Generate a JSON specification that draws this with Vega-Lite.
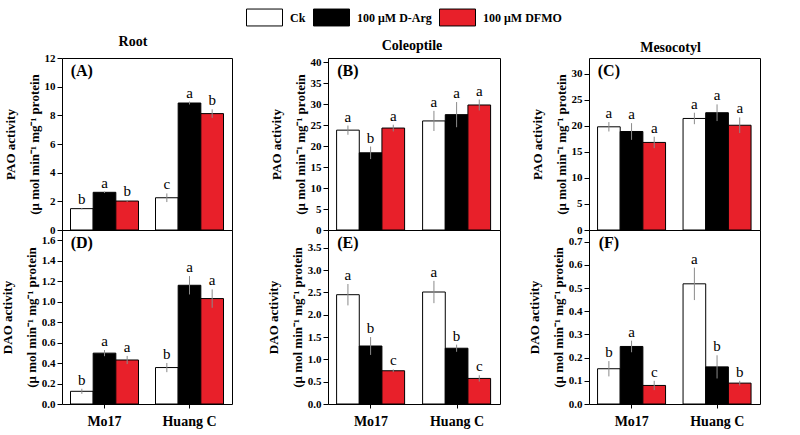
{
  "$schema": "https://vega.github.io/schema/vega-lite/v6.json",
  "padding": {"left": 0, "top": 8, "right": 5, "bottom": 5},
  "background": "white",
  "datasets": {
    "d": [
      {"panel": "A", "cultivar": "Mo17", "treatment": "Ck", "value": 1.49, "lo": 1.44, "hi": 1.54, "letter": "b"},
      {"panel": "A", "cultivar": "Mo17", "treatment": "100 μM D-Arg", "value": 2.63, "lo": 2.58, "hi": 2.68, "letter": "a"},
      {"panel": "A", "cultivar": "Mo17", "treatment": "100 μM DFMO", "value": 2.02, "lo": 1.96, "hi": 2.08, "letter": "b"},
      {"panel": "A", "cultivar": "Huang C", "treatment": "Ck", "value": 2.25, "lo": 1.95, "hi": 2.55, "letter": "c"},
      {"panel": "A", "cultivar": "Huang C", "treatment": "100 μM D-Arg", "value": 8.86, "lo": 8.76, "hi": 8.96, "letter": "a"},
      {"panel": "A", "cultivar": "Huang C", "treatment": "100 μM DFMO", "value": 8.12, "lo": 7.82, "hi": 8.42, "letter": "b"},
      {"panel": "B", "cultivar": "Mo17", "treatment": "Ck", "value": 23.8, "lo": 22.7, "hi": 24.9, "letter": "a"},
      {"panel": "B", "cultivar": "Mo17", "treatment": "100 μM D-Arg", "value": 18.4, "lo": 16.9, "hi": 19.9, "letter": "b"},
      {"panel": "B", "cultivar": "Mo17", "treatment": "100 μM DFMO", "value": 24.3, "lo": 23.5, "hi": 25.1, "letter": "a"},
      {"panel": "B", "cultivar": "Huang C", "treatment": "Ck", "value": 26.0, "lo": 23.6, "hi": 28.4, "letter": "a"},
      {"panel": "B", "cultivar": "Huang C", "treatment": "100 μM D-Arg", "value": 27.5, "lo": 24.5, "hi": 30.5, "letter": "a"},
      {"panel": "B", "cultivar": "Huang C", "treatment": "100 μM DFMO", "value": 29.8, "lo": 28.5, "hi": 31.1, "letter": "a"},
      {"panel": "C", "cultivar": "Mo17", "treatment": "Ck", "value": 19.8, "lo": 18.9, "hi": 20.7, "letter": "a"},
      {"panel": "C", "cultivar": "Mo17", "treatment": "100 μM D-Arg", "value": 18.9, "lo": 17.3, "hi": 20.5, "letter": "a"},
      {"panel": "C", "cultivar": "Mo17", "treatment": "100 μM DFMO", "value": 16.8, "lo": 15.7, "hi": 17.9, "letter": "a"},
      {"panel": "C", "cultivar": "Huang C", "treatment": "Ck", "value": 21.4, "lo": 20.3, "hi": 22.5, "letter": "a"},
      {"panel": "C", "cultivar": "Huang C", "treatment": "100 μM D-Arg", "value": 22.5, "lo": 20.9, "hi": 24.1, "letter": "a"},
      {"panel": "C", "cultivar": "Huang C", "treatment": "100 μM DFMO", "value": 20.1, "lo": 18.6, "hi": 21.6, "letter": "a"},
      {"panel": "D", "cultivar": "Mo17", "treatment": "Ck", "value": 0.124, "lo": 0.099, "hi": 0.149, "letter": "b"},
      {"panel": "D", "cultivar": "Mo17", "treatment": "100 μM D-Arg", "value": 0.497, "lo": 0.467, "hi": 0.527, "letter": "a"},
      {"panel": "D", "cultivar": "Mo17", "treatment": "100 μM DFMO", "value": 0.43, "lo": 0.39, "hi": 0.47, "letter": "a"},
      {"panel": "D", "cultivar": "Huang C", "treatment": "Ck", "value": 0.356, "lo": 0.311, "hi": 0.401, "letter": "b"},
      {"panel": "D", "cultivar": "Huang C", "treatment": "100 μM D-Arg", "value": 1.16, "lo": 1.07, "hi": 1.25, "letter": "a"},
      {"panel": "D", "cultivar": "Huang C", "treatment": "100 μM DFMO", "value": 1.03, "lo": 0.94, "hi": 1.12, "letter": "a"},
      {"panel": "E", "cultivar": "Mo17", "treatment": "Ck", "value": 2.45, "lo": 2.21, "hi": 2.69, "letter": "a"},
      {"panel": "E", "cultivar": "Mo17", "treatment": "100 μM D-Arg", "value": 1.30, "lo": 1.10, "hi": 1.50, "letter": "b"},
      {"panel": "E", "cultivar": "Mo17", "treatment": "100 μM DFMO", "value": 0.745, "lo": 0.715, "hi": 0.775, "letter": "c"},
      {"panel": "E", "cultivar": "Huang C", "treatment": "Ck", "value": 2.51, "lo": 2.26, "hi": 2.76, "letter": "a"},
      {"panel": "E", "cultivar": "Huang C", "treatment": "100 μM D-Arg", "value": 1.25, "lo": 1.17, "hi": 1.33, "letter": "b"},
      {"panel": "E", "cultivar": "Huang C", "treatment": "100 μM DFMO", "value": 0.573, "lo": 0.503, "hi": 0.643, "letter": "c"},
      {"panel": "F", "cultivar": "Mo17", "treatment": "Ck", "value": 0.152, "lo": 0.119, "hi": 0.185, "letter": "b"},
      {"panel": "F", "cultivar": "Mo17", "treatment": "100 μM D-Arg", "value": 0.248, "lo": 0.223, "hi": 0.273, "letter": "a"},
      {"panel": "F", "cultivar": "Mo17", "treatment": "100 μM DFMO", "value": 0.08, "lo": 0.06, "hi": 0.10, "letter": "c"},
      {"panel": "F", "cultivar": "Huang C", "treatment": "Ck", "value": 0.518, "lo": 0.448, "hi": 0.588, "letter": "a"},
      {"panel": "F", "cultivar": "Huang C", "treatment": "100 μM D-Arg", "value": 0.16, "lo": 0.11, "hi": 0.21, "letter": "b"},
      {"panel": "F", "cultivar": "Huang C", "treatment": "100 μM DFMO", "value": 0.09, "lo": 0.08, "hi": 0.10, "letter": "b"}
    ]
  },
  "data": {"name": "d"},
  "spacing": 33,
  "hconcat": [
    {
      "spacing": 0,
      "bounds": "flush",
      "vconcat": [
        {
          "width": 170, "height": 172,
          "title": {"text": "Root", "fontSize": 14, "offset": 3, "anchor": "middle", "frame": "group", "dx": -14},
          "transform": [{"filter": "datum.panel === 'A'"}],
          "encoding": {
            "x": {"field": "cultivar", "type": "nominal", "sort": ["Mo17", "Huang C"], "scale": {"paddingInner": 0.2, "paddingOuter": 0.1}, "axis": null},
            "xOffset": {"field": "treatment", "type": "nominal", "sort": ["Ck", "100 μM D-Arg", "100 μM DFMO"], "scale": {"paddingInner": 0, "paddingOuter": 0}}
          },
          "layer": [
            {"mark": {"type": "bar", "stroke": "black", "strokeWidth": 1},
             "encoding": {
               "y": {"field": "value", "type": "quantitative", "scale": {"domain": [0, 12], "nice": false}, "axis": {"title": ["PAO activity", "(μ mol min⁻¹ mg⁻¹ protein"], "values": [0, 2, 4, 6, 8, 10, 12], "tickCount": 20, "format": "d", "labelOverlap": false}},
               "fill": {"field": "treatment", "type": "nominal", "sort": ["Ck", "100 μM D-Arg", "100 μM DFMO"], "scale": {"domain": ["Ck", "100 μM D-Arg", "100 μM DFMO"], "range": ["white", "black", "#e8202a"]},
                 "legend": {"orient": "none", "legendX": 193, "legendY": -50, "direction": "horizontal", "gridAlign": "none", "title": null, "symbolType": "M-2,-0.94H2V0.94H-2Z", "symbolSize": 324, "symbolStrokeColor": "black", "symbolStrokeWidth": 1, "symbolOpacity": 1, "labelFont": "Liberation Serif", "labelFontWeight": "bold", "labelFontSize": 12, "labelColor": "black", "labelOffset": 16, "columnPadding": 5}}
             }},
            {"mark": {"type": "rule", "color": "#8a8a8a", "strokeWidth": 1}, "encoding": {"y": {"field": "lo", "type": "quantitative"}, "y2": {"field": "hi"}}},
            {"mark": {"type": "text", "baseline": "bottom", "dy": -1, "font": "Liberation Serif", "fontSize": 15, "color": "black"}, "encoding": {"y": {"field": "hi", "type": "quantitative"}, "text": {"field": "letter"}}},
            {"transform": [{"filter": "datum.cultivar === 'Mo17' && datum.treatment === 'Ck'"}], "mark": {"type": "text", "align": "center", "baseline": "top", "dy": 5, "font": "Liberation Serif", "fontWeight": "bold", "fontSize": 16, "color": "black"}, "encoding": {"y": {"datum": 12}, "text": {"value": "(A)"}}}
          ]
        },
        {
          "width": 170, "height": 174,
          "transform": [{"filter": "datum.panel === 'D'"}],
          "encoding": {
            "x": {"field": "cultivar", "type": "nominal", "sort": ["Mo17", "Huang C"], "scale": {"paddingInner": 0.2, "paddingOuter": 0.1}, "axis": {"title": null, "labelAngle": 0, "labelFontSize": 14, "labelFontWeight": "bold", "tickSize": 4, "labelPadding": 6, "domain": false}},
            "xOffset": {"field": "treatment", "type": "nominal", "sort": ["Ck", "100 μM D-Arg", "100 μM DFMO"], "scale": {"paddingInner": 0, "paddingOuter": 0}}
          },
          "layer": [
            {"mark": {"type": "bar", "stroke": "black", "strokeWidth": 1},
             "encoding": {
               "y": {"field": "value", "type": "quantitative", "scale": {"domain": [0, 1.7], "nice": false}, "axis": {"title": ["DAO activity", "(μ mol min⁻¹ mg⁻¹ protein"], "values": [0, 0.2, 0.4, 0.6, 0.8, 1.0, 1.2, 1.4, 1.6], "tickCount": 20, "format": ".1f", "labelOverlap": false}},
               "fill": {"field": "treatment", "type": "nominal", "sort": ["Ck", "100 μM D-Arg", "100 μM DFMO"]}
             }},
            {"mark": {"type": "rule", "color": "#8a8a8a", "strokeWidth": 1}, "encoding": {"y": {"field": "lo", "type": "quantitative"}, "y2": {"field": "hi"}}},
            {"mark": {"type": "text", "baseline": "bottom", "dy": -1, "font": "Liberation Serif", "fontSize": 15, "color": "black"}, "encoding": {"y": {"field": "hi", "type": "quantitative"}, "text": {"field": "letter"}}},
            {"transform": [{"filter": "datum.cultivar === 'Mo17' && datum.treatment === 'Ck'"}], "mark": {"type": "text", "align": "center", "baseline": "top", "dy": 5, "font": "Liberation Serif", "fontWeight": "bold", "fontSize": 16, "color": "black"}, "encoding": {"y": {"datum": 1.7}, "text": {"value": "(D)"}}}
          ]
        }
      ]
    },
    {
      "spacing": 26,
      "hconcat": [
        {
          "spacing": 0,
          "bounds": "flush",
          "vconcat": [
            {
              "width": 172, "height": 172,
              "title": {"text": "Coleoptile", "fontSize": 14, "offset": 3, "anchor": "middle", "frame": "group", "dx": -2},
              "transform": [{"filter": "datum.panel === 'B'"}],
              "encoding": {
                "x": {"field": "cultivar", "type": "nominal", "sort": ["Mo17", "Huang C"], "scale": {"paddingInner": 0.2, "paddingOuter": 0.1}, "axis": null},
                "xOffset": {"field": "treatment", "type": "nominal", "sort": ["Ck", "100 μM D-Arg", "100 μM DFMO"], "scale": {"paddingInner": 0, "paddingOuter": 0}}
              },
              "layer": [
                {"mark": {"type": "bar", "stroke": "black", "strokeWidth": 1},
                 "encoding": {
                   "y": {"field": "value", "type": "quantitative", "scale": {"domain": [0, 41], "nice": false}, "axis": {"title": ["PAO activity", "(μ mol min⁻¹ mg⁻¹ protein"], "values": [0, 5, 10, 15, 20, 25, 30, 35, 40], "tickCount": 20, "format": "d", "labelOverlap": false}},
                   "fill": {"field": "treatment", "type": "nominal", "sort": ["Ck", "100 μM D-Arg", "100 μM DFMO"]}
                 }},
                {"mark": {"type": "rule", "color": "#8a8a8a", "strokeWidth": 1}, "encoding": {"y": {"field": "lo", "type": "quantitative"}, "y2": {"field": "hi"}}},
                {"mark": {"type": "text", "baseline": "bottom", "dy": -1, "font": "Liberation Serif", "fontSize": 15, "color": "black"}, "encoding": {"y": {"field": "hi", "type": "quantitative"}, "text": {"field": "letter"}}},
                {"transform": [{"filter": "datum.cultivar === 'Mo17' && datum.treatment === 'Ck'"}], "mark": {"type": "text", "align": "center", "baseline": "top", "dy": 5, "font": "Liberation Serif", "fontWeight": "bold", "fontSize": 16, "color": "black"}, "encoding": {"y": {"datum": 41}, "text": {"value": "(B)"}}}
              ]
            },
            {
              "width": 172, "height": 174,
              "transform": [{"filter": "datum.panel === 'E'"}],
              "encoding": {
                "x": {"field": "cultivar", "type": "nominal", "sort": ["Mo17", "Huang C"], "scale": {"paddingInner": 0.2, "paddingOuter": 0.1}, "axis": {"title": null, "labelAngle": 0, "labelFontSize": 14, "labelFontWeight": "bold", "tickSize": 4, "labelPadding": 6, "domain": false}},
                "xOffset": {"field": "treatment", "type": "nominal", "sort": ["Ck", "100 μM D-Arg", "100 μM DFMO"], "scale": {"paddingInner": 0, "paddingOuter": 0}}
              },
              "layer": [
                {"mark": {"type": "bar", "stroke": "black", "strokeWidth": 1},
                 "encoding": {
                   "y": {"field": "value", "type": "quantitative", "scale": {"domain": [0, 3.9], "nice": false}, "axis": {"title": ["DAO activity", "(μ mol min⁻¹ mg⁻¹ protein"], "values": [0, 0.5, 1.0, 1.5, 2.0, 2.5, 3.0, 3.5], "tickCount": 20, "format": ".1f", "labelOverlap": false}},
                   "fill": {"field": "treatment", "type": "nominal", "sort": ["Ck", "100 μM D-Arg", "100 μM DFMO"]}
                 }},
                {"mark": {"type": "rule", "color": "#8a8a8a", "strokeWidth": 1}, "encoding": {"y": {"field": "lo", "type": "quantitative"}, "y2": {"field": "hi"}}},
                {"mark": {"type": "text", "baseline": "bottom", "dy": -1, "font": "Liberation Serif", "fontSize": 15, "color": "black"}, "encoding": {"y": {"field": "hi", "type": "quantitative"}, "text": {"field": "letter"}}},
                {"transform": [{"filter": "datum.cultivar === 'Mo17' && datum.treatment === 'Ck'"}], "mark": {"type": "text", "align": "center", "baseline": "top", "dy": 5, "font": "Liberation Serif", "fontWeight": "bold", "fontSize": 16, "color": "black"}, "encoding": {"y": {"datum": 3.9}, "text": {"value": "(E)"}}}
              ]
            }
          ]
        },
        {
          "spacing": 0,
          "bounds": "flush",
          "vconcat": [
            {
              "width": 171, "height": 172,
              "title": {"text": "Mesocotyl", "fontSize": 14, "offset": 3, "anchor": "middle", "frame": "group", "dx": -4},
              "transform": [{"filter": "datum.panel === 'C'"}],
              "encoding": {
                "x": {"field": "cultivar", "type": "nominal", "sort": ["Mo17", "Huang C"], "scale": {"paddingInner": 0.2, "paddingOuter": 0.1}, "axis": null},
                "xOffset": {"field": "treatment", "type": "nominal", "sort": ["Ck", "100 μM D-Arg", "100 μM DFMO"], "scale": {"paddingInner": 0, "paddingOuter": 0}}
              },
              "layer": [
                {"mark": {"type": "bar", "stroke": "black", "strokeWidth": 1},
                 "encoding": {
                   "y": {"field": "value", "type": "quantitative", "scale": {"domain": [0, 33], "nice": false}, "axis": {"title": ["PAO activity", "(μ mol min⁻¹ mg⁻¹ protein"], "values": [0, 5, 10, 15, 20, 25, 30], "tickCount": 20, "format": "d", "labelOverlap": false}},
                   "fill": {"field": "treatment", "type": "nominal", "sort": ["Ck", "100 μM D-Arg", "100 μM DFMO"]}
                 }},
                {"mark": {"type": "rule", "color": "#8a8a8a", "strokeWidth": 1}, "encoding": {"y": {"field": "lo", "type": "quantitative"}, "y2": {"field": "hi"}}},
                {"mark": {"type": "text", "baseline": "bottom", "dy": -1, "font": "Liberation Serif", "fontSize": 15, "color": "black"}, "encoding": {"y": {"field": "hi", "type": "quantitative"}, "text": {"field": "letter"}}},
                {"transform": [{"filter": "datum.cultivar === 'Mo17' && datum.treatment === 'Ck'"}], "mark": {"type": "text", "align": "center", "baseline": "top", "dy": 5, "font": "Liberation Serif", "fontWeight": "bold", "fontSize": 16, "color": "black"}, "encoding": {"y": {"datum": 33}, "text": {"value": "(C)"}}}
              ]
            },
            {
              "width": 171, "height": 174,
              "transform": [{"filter": "datum.panel === 'F'"}],
              "encoding": {
                "x": {"field": "cultivar", "type": "nominal", "sort": ["Mo17", "Huang C"], "scale": {"paddingInner": 0.2, "paddingOuter": 0.1}, "axis": {"title": null, "labelAngle": 0, "labelFontSize": 14, "labelFontWeight": "bold", "tickSize": 4, "labelPadding": 6, "domain": false}},
                "xOffset": {"field": "treatment", "type": "nominal", "sort": ["Ck", "100 μM D-Arg", "100 μM DFMO"], "scale": {"paddingInner": 0, "paddingOuter": 0}}
              },
              "layer": [
                {"mark": {"type": "bar", "stroke": "black", "strokeWidth": 1},
                 "encoding": {
                   "y": {"field": "value", "type": "quantitative", "scale": {"domain": [0, 0.75], "nice": false}, "axis": {"title": ["DAO activity", "(μ mol min⁻¹ mg⁻¹ protein"], "values": [0, 0.1, 0.2, 0.3, 0.4, 0.5, 0.6, 0.7], "tickCount": 20, "format": ".1f", "labelOverlap": false}},
                   "fill": {"field": "treatment", "type": "nominal", "sort": ["Ck", "100 μM D-Arg", "100 μM DFMO"]}
                 }},
                {"mark": {"type": "rule", "color": "#8a8a8a", "strokeWidth": 1}, "encoding": {"y": {"field": "lo", "type": "quantitative"}, "y2": {"field": "hi"}}},
                {"mark": {"type": "text", "baseline": "bottom", "dy": -1, "font": "Liberation Serif", "fontSize": 15, "color": "black"}, "encoding": {"y": {"field": "hi", "type": "quantitative"}, "text": {"field": "letter"}}},
                {"transform": [{"filter": "datum.cultivar === 'Mo17' && datum.treatment === 'Ck'"}], "mark": {"type": "text", "align": "center", "baseline": "top", "dy": 5, "font": "Liberation Serif", "fontWeight": "bold", "fontSize": 16, "color": "black"}, "encoding": {"y": {"datum": 0.75}, "text": {"value": "(F)"}}}
              ]
            }
          ]
        }
      ]
    }
  ],
  "config": {
    "view": {"stroke": "black", "strokeWidth": 1},
    "font": "Liberation Serif",
    "title": {"font": "Liberation Serif", "fontWeight": "bold", "color": "black"},
    "axis": {"grid": false, "labelFont": "Liberation Serif", "titleFont": "Liberation Serif", "labelColor": "black", "titleColor": "black", "tickColor": "black", "domainColor": "black", "titleFontSize": 13, "titleFontWeight": "bold"},
    "axisY": {"domain": false, "labelOverlap": false, "labelFontWeight": "bold", "labelFontSize": 11, "titleFontSize": 13, "titleFontWeight": "bold", "titleLineHeight": 24, "titlePadding": 3, "tickSize": 5, "labelPadding": 2}
  }
}
